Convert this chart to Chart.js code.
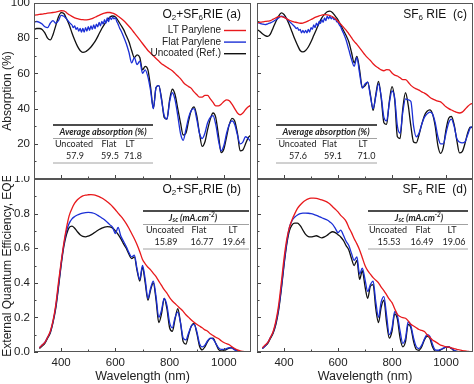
<!DOCTYPE html>
<html><head><meta charset="utf-8">
<script src="https://cdn.jsdelivr.net/npm/chart.js@4/dist/chart.umd.min.js"></script>
<style>
html,body{margin:0;padding:0;background:#fff;width:474px;height:384px;overflow:hidden;position:relative}
canvas{position:absolute}
</style></head><body>
<canvas id="ca"></canvas><canvas id="cb"></canvas><canvas id="cc"></canvas><canvas id="cd"></canvas>
<script>
// ---------- data ----------
// common wavelength grid (nm), 10 nm step
const WL = Array.from({length: 81}, (_, i) => 300 + 10 * i);
// finer grid for the flat-parylene absorption curves (ripples between 445 and 620 nm)
const WLF = [].concat(
  Array.from({length: 15}, (_, i) => 300 + 10 * i),
  Array.from({length: 36}, (_, i) => 445 + 5 * i),
  Array.from({length: 48}, (_, i) => 630 + 10 * i));

// (a) Absorption (%), O2+SF6 RIE
const absO2_LT = [93,93.2,93.5,93.7,94,94.2,94.4,94.6,94.8,95.2,95.6,95.5,94.5,93.3,92.4,91.6,91.1,90.7,90.5,90.4,90.6,91,91.6,92.3,93,93.7,94.3,94.6,94.6,94.2,93.5,92.5,91.3,90,88.5,86.8,85,83,81,79,77,75,73,71.5,70,68.5,67,65.5,64.5,63.5,62.5,61.5,60,58.5,57,55,53.5,52.5,51.5,49.5,48,46.5,46.5,47.5,47.5,45.5,43.5,41.5,41.5,42.5,44,45,44.5,42.5,40,37.5,36.5,37.5,39.5,41,42];
const absO2_Flat = [89,89.5,89,88,86.5,86,88.5,90,88.5,90,93,92.5,91,89,87.5,
  86,87,85,86,84,85.5,83.5,85.5,83.5,86,84,86.5,84.5,87,85,87.5,85.5,88,86.5,89,87,89.5,88,90.5,88.5,91.5,89.5,92,90.5,92,91,91.5,89.5,88,86,84.5,
  81,77,72,66,69,65,67,60,62,58,50,40,52,53,45,36,34,44,49,45,36,26,22,28,35,39,40,34,26,23,26,32,35,36,31,22,16,19,26,31,33,31,25,20,21,24,23,21];
const absO2_Unc = [85,85.5,85.5,85,83,80,79,82,87,92,94.5,94,91,87.5,83,79,75.5,73,72,72.3,73.5,75,77,79.5,82.5,85.5,88,90.3,92,92.6,92,90,87.5,85,81.5,78,73,69,70.5,69,62,64,62,52,40,52,53,46,35,34,45,51,48,40,32,25,26,33,39,41,36,26,18.5,21,28,34,37.5,35,25,15,17,24,31,34.5,33,26,16,16.5,20,23.5,25];

// (b) EQE, O2+SF6 RIE
const eqeO2_LT = [null,null,0.025,0.04,0.055,0.085,0.12,0.18,0.27,0.4,0.52,0.63,0.72,0.79,0.83,0.86,0.88,0.893,0.902,0.907,0.909,0.91,0.908,0.904,0.898,0.89,0.88,0.868,0.855,0.84,0.822,0.803,0.785,0.765,0.742,0.715,0.685,0.655,0.62,0.58,0.535,0.51,0.49,0.475,0.455,0.435,0.41,0.385,0.36,0.34,0.315,0.295,0.28,0.265,0.25,0.235,0.215,0.2,0.185,0.172,0.16,0.15,0.14,0.128,0.12,0.105,0.095,0.085,0.078,0.065,0.055,0.048,0.042,0.03,0.02,0.012,0.006,0.003,0.001,0,0];
const eqeO2_Flat = [null,null,0.025,0.04,0.055,0.085,0.115,0.175,0.26,0.38,0.51,0.62,0.7,0.745,0.77,0.783,0.792,0.798,0.803,0.806,0.807,0.806,0.802,0.795,0.785,0.775,0.765,0.75,0.735,0.72,0.685,0.72,0.67,0.64,0.61,0.575,0.55,0.56,0.48,0.42,0.5,0.42,0.31,0.37,0.41,0.32,0.2,0.24,0.31,0.27,0.17,0.14,0.2,0.23,0.17,0.08,0.07,0.11,0.15,0.16,0.12,0.05,0.03,0.04,0.065,0.08,0.075,0.05,0.025,0.015,0.015,0.02,0.025,0.022,0.012,0.005,0.002,0.001,0,0,0];
const eqeO2_Unc = [null,null,0.02,0.035,0.05,0.08,0.11,0.17,0.25,0.37,0.5,0.61,0.68,0.72,0.728,0.715,0.695,0.678,0.668,0.666,0.67,0.677,0.687,0.698,0.708,0.716,0.722,0.725,0.723,0.716,0.7,0.68,0.655,0.625,0.6,0.565,0.54,0.55,0.47,0.41,0.49,0.4,0.3,0.36,0.4,0.3,0.17,0.22,0.31,0.25,0.14,0.12,0.19,0.25,0.17,0.06,0.045,0.1,0.15,0.165,0.11,0.035,0.012,0.03,0.06,0.078,0.08,0.05,0.015,0.006,0.008,0.015,0.022,0.025,0.015,0.006,0.002,0.001,0,0,0];

// (c) Absorption (%), SF6 RIE
const absSF6_LT = [88.7,89,89.3,89.5,89.7,90,90.8,91.6,92.2,92.3,91.8,91,90.2,89.6,89.2,88.8,88.5,88.6,89.1,89.8,90.6,91.4,92.1,92.7,93.1,93.4,93.3,92.9,92.2,91,89.6,88,86.3,84.6,82.5,80.3,78.2,76.5,74.5,72.5,70.5,68.8,67.3,65.5,64,63,62,61.5,62.2,62,60.2,59,58.5,57.5,56.5,56.5,55,53.2,52,51.2,50.5,49.5,48.8,47.8,46.5,45.5,44.8,44.2,43.8,42.5,41,40,39.2,38.5,37.8,37.5,38,39.5,41.2,42.5,43];
const absSF6_Flat = [89,88.5,88,87.7,88.2,88.7,89.5,90.5,91.5,92.5,92,91,89.5,88,86.5,
  85.5,86,84.5,85,83,84.5,83,84.5,83,85,83.5,86,85,87.5,86,88.5,87,89.5,88.5,90.5,89,91.5,90,92.5,91,92.5,91,92,90.5,91,89.5,89,87.5,86.5,84.5,83,
  79,73.5,68,64,69,60,51.6,54,55,47,40,47,54,47,35,33,43,50,46,30,26,38,45.5,45,44,30,24,26,31,35,37,38,37,32,24,20,20,26,32,34,30,23,21,20.5,21,25,29,30];
const absSF6_Unc = [85,84,82.5,81.5,81,82.5,86,89.5,92.5,94.4,93.5,91,87.5,83.5,79.5,76,73,72.2,73,75,78,81.5,85,88.5,91.5,93.5,95,95.4,94.5,92.5,90.5,87.5,84.5,81.5,78,72,66,69.7,62,52,53,55,48,39,48,55.5,46,32,31,44,52.5,45,24,23,40,49,42,30,21,20.5,25,31,36,38.5,39.3,37,30,19,14.6,18,28,34.5,35.5,31,22,14.8,15.5,20,26,29.5,29];

// (d) EQE, SF6 RIE
const eqeSF6_LT = [null,null,0.025,0.04,0.055,0.085,0.12,0.18,0.27,0.4,0.54,0.65,0.72,0.765,0.8,0.83,0.85,0.866,0.877,0.885,0.889,0.89,0.888,0.884,0.879,0.873,0.866,0.855,0.84,0.825,0.81,0.79,0.775,0.755,0.72,0.69,0.655,0.625,0.59,0.545,0.5,0.47,0.45,0.43,0.415,0.4,0.375,0.355,0.33,0.305,0.285,0.25,0.218,0.205,0.198,0.195,0.18,0.16,0.15,0.14,0.13,0.125,0.118,0.1,0.085,0.07,0.06,0.05,0.04,0.035,0.03,0.028,0.024,0.02,0.015,0.012,0.008,0.006,0.004,0.002,0.001];
const eqeSF6_Flat = [null,null,0.02,0.035,0.055,0.085,0.115,0.17,0.25,0.37,0.51,0.63,0.72,0.76,0.78,0.792,0.8,0.803,0.803,0.802,0.8,0.796,0.79,0.783,0.776,0.77,0.763,0.752,0.738,0.715,0.69,0.705,0.675,0.64,0.615,0.57,0.53,0.55,0.45,0.485,0.42,0.35,0.39,0.41,0.29,0.2,0.29,0.32,0.21,0.1,0.14,0.233,0.21,0.12,0.05,0.08,0.175,0.15,0.08,0.03,0.02,0.04,0.075,0.1,0.09,0.045,0.012,0.01,0.015,0.022,0.028,0.03,0.022,0.01,0.004,0.001,0,0,0,0,0];
const eqeSF6_Unc = [null,null,0.02,0.035,0.05,0.08,0.11,0.16,0.24,0.36,0.5,0.62,0.7,0.735,0.745,0.745,0.73,0.705,0.68,0.667,0.665,0.668,0.672,0.665,0.66,0.665,0.675,0.688,0.695,0.69,0.678,0.665,0.645,0.615,0.59,0.54,0.5,0.53,0.42,0.47,0.38,0.31,0.38,0.39,0.25,0.17,0.26,0.3,0.17,0.08,0.12,0.22,0.19,0.08,0.03,0.06,0.16,0.14,0.06,0.015,0.01,0.03,0.07,0.09,0.08,0.03,0.005,0.005,0.012,0.02,0.028,0.03,0.02,0.008,0.003,0.001,0,0,0,0,0];

// table contents
const tblCols = ['Uncoated', 'Flat', 'LT'];
const avgAbsO2 = ['57.9', '59.5', '71.8'];
const avgAbsSF6 = ['57.6', '59.1', '71.0'];
const jscO2 = ['15.89', '16.77', '19.64'];
const jscSF6 = ['15.53', '16.49', '19.06'];
const legendLabels = ['LT Parylene', 'Flat Parylene', 'Uncoated (Ref.)'];

// ---------- styling ----------
const RED = '#e8191c', BLUE = '#1b2fd6', BLACK = '#111111';
const AX = '"Liberation Sans", Arial, sans-serif';
const TB = 'Lato, "Open Sans", sans-serif';

function pts(xs, arr) { return xs.map((x, i) => ({x, y: arr[i]})); }
function sets(lt, flat, unc, flatX) {
  const base = {pointRadius: 0, borderWidth: 1.3, cubicInterpolationMode: 'monotone', fill: false, spanGaps: false};
  return [
    Object.assign({label: legendLabels[0], data: pts(WL, lt), borderColor: RED}, base),
    Object.assign({label: legendLabels[1], data: pts(flatX || WL, flat), borderColor: BLUE}, base),
    Object.assign({label: legendLabels[2], data: pts(WL, unc), borderColor: BLACK}, base)
  ];
}

function runs(ctx, list, x, y, align) {
  let w = 0;
  list.forEach(r => { ctx.font = r[1]; w += ctx.measureText(r[0]).width; });
  let cx = align === 'right' ? x - w : align === 'center' ? x - w / 2 : x;
  list.forEach(r => { ctx.font = r[1]; ctx.fillText(r[0], cx, y + (r[2] || 0)); cx += ctx.measureText(r[0]).width; });
}
function hline(ctx, x0, x1, y, w, c) {
  ctx.beginPath(); ctx.strokeStyle = c; ctx.lineWidth = w; ctx.moveTo(x0, y); ctx.lineTo(x1, y); ctx.stroke();
}

const decor = {
  id: 'decor',
  afterDatasetsDraw(chart, args, o) {
    const {ctx, chartArea: a, scales: {x, y}} = chart;
    ctx.save();
    ctx.strokeStyle = '#444'; ctx.lineWidth = 1;
    ctx.beginPath();
    [400, 500, 600, 700, 800, 900, 1000].forEach(v => {
      const px = Math.round(x.getPixelForValue(v)) + 0.5;
      const len = v % 200 === 0 ? 4 : 2.5;
      ctx.moveTo(px, a.bottom); ctx.lineTo(px, a.bottom - len);
    });
    o.yTicks.forEach((v, i) => {
      const py = Math.round(y.getPixelForValue(v)) + 0.5;
      const len = i % 2 === 0 ? 4 : 2.5;
      ctx.moveTo(a.left, py); ctx.lineTo(a.left + len, py);
    });
    ctx.stroke();
    ctx.strokeStyle = '#555'; ctx.lineWidth = 1;
    ctx.strokeRect(Math.round(a.left) + 0.5, Math.round(a.top) + 0.5, Math.round(a.right - a.left) - 1, Math.round(a.bottom - a.top) - 1);
    ctx.translate(-o.ox, -o.oy);
    ctx.fillStyle = '#111'; ctx.textBaseline = 'middle';
    o.draw(ctx);
    ctx.restore();
  }
};

function table(ctx, t) {
  hline(ctx, t.x0, t.x1, t.y0, 1.6, '#111');
  hline(ctx, t.x0, t.x1, t.y0 + 13.5, 0.8, '#8a8a8a');
  hline(ctx, t.x0, t.x1, t.y0 + 38, 0.8, '#8a8a8a');
  ctx.fillStyle = '#222';
  runs(ctx, t.head, t.hx, t.y0 + 7, 'center');
  ctx.font = '9px ' + TB;
  ctx.textAlign = 'center';
  t.cx.forEach((cx, i) => ctx.fillText(tblCols[i], cx, t.y0 + 19.5));
  t.vx.forEach((cx, i) => ctx.fillText(t.vals[i], cx, t.y0 + 31.5));
  ctx.textAlign = 'left';
}

const F12 = '12px ' + AX, F8 = '8px ' + AX;
const HB = 'italic bold 9px ' + TB, HBs = 'italic bold 6.5px ' + TB;

function mk(id, ox, oy, w, h, cfg) {
  const cv = document.getElementById(id);
  cv.width = w; cv.height = h;
  cv.style.left = ox + 'px'; cv.style.top = oy + 'px';
  cv.style.width = w + 'px'; cv.style.height = h + 'px';
  const tickFont = {family: AX, size: 11.5};
  return new Chart(cv, {
    type: 'line',
    data: {datasets: cfg.datasets},
    options: {
      responsive: false, animation: false, devicePixelRatio: 1,
      layout: {padding: cfg.padding},
      plugins: {legend: {display: false}, tooltip: {enabled: false},
        decor: {ox, oy, yTicks: cfg.yMinor, draw: cfg.draw}},
      scales: {
        x: {type: 'linear', min: 300, max: 1100, display: cfg.showX,
          grid: {display: false, drawTicks: false}, border: {display: false},
          ticks: {font: tickFont, color: '#222', padding: 4, maxRotation: 0, callback: v => String(v)},
          afterBuildTicks: s => { s.ticks = [400, 600, 800, 1000].map(v => ({value: v})); },
          afterFit: s => { if (cfg.showX) s.height = 32; s.paddingLeft = 0; s.paddingRight = 0; },
          title: {display: true, text: 'Wavelength (nm)', font: {family: AX, size: 12.5}, color: '#222', padding: 0}},
        y: {type: 'linear', min: cfg.yMin, max: cfg.yMax, display: cfg.showY,
          grid: {display: false, drawTicks: false}, border: {display: false},
          ticks: {font: tickFont, color: '#222', padding: 4, callback: cfg.yFmt},
          afterBuildTicks: s => { s.ticks = cfg.yLabels.map(v => ({value: v})); },
          afterFit: s => { if (cfg.showY) s.width = 34; s.paddingTop = 0; s.paddingBottom = 0; },
          title: {display: true, text: cfg.yTitle || '', font: {family: AX, size: 12}, color: '#222', padding: 0}}
      }
    },
    plugins: [decor]
  });
}

const absMinor = [0, 10, 20, 30, 40, 50, 60, 70, 80, 90, 100];
const eqeMinor = [0, 0.1, 0.2, 0.3, 0.4, 0.5, 0.6, 0.7, 0.8, 0.9, 1.0];

// (a)
mk('ca', 0, 0, 254, 181, {
  datasets: sets(absO2_LT, absO2_Flat, absO2_Unc, WLF),
  padding: {left: 0, top: 3, right: 3, bottom: 2},
  showX: false, showY: true, yMin: 0, yMax: 100, yLabels: [20, 40, 60, 80, 100], yMinor: absMinor,
  yFmt: v => String(v), yTitle: 'Absorption (%)',
  draw: ctx => {
    runs(ctx, [['O', F12], ['2', F8, 3], ['+SF', F12], ['6', F8, 3], ['RIE (a)', F12]], 241, 15, 'right');
    ctx.font = '10px ' + AX; ctx.textAlign = 'right';
    [RED, BLUE, BLACK].forEach((c, i) => {
      const yy = 30.5 + 11.6 * i;
      ctx.fillStyle = '#222'; ctx.fillText(legendLabels[i], 221, yy);
      hline(ctx, 224, 246, yy, 1.4, c);
    });
    ctx.textAlign = 'left';
    table(ctx, {x0: 53, x1: 153, y0: 125, hx: 103, head: [['Average absorption (%)', HB]],
      cx: [74, 109, 130], vx: [75, 110, 133], vals: avgAbsO2});
  }
});
// (b)
mk('cb', 0, 176, 254, 208, {
  datasets: sets(eqeO2_LT, eqeO2_Flat, eqeO2_Unc),
  padding: {left: 0, top: 3, right: 3, bottom: 0},
  showX: true, showY: true, yMin: 0, yMax: 1, yLabels: [0, 0.2, 0.4, 0.6, 0.8, 1.0], yMinor: eqeMinor,
  yFmt: v => v.toFixed(1), yTitle: 'External Quantum Efficiency, EQE',
  draw: ctx => {
    runs(ctx, [['O', F12], ['2', F8, 3], ['+SF', F12], ['6', F8, 3], ['RIE (b)', F12]], 241, 190, 'right');
    table(ctx, {x0: 143, x1: 249, y0: 211, hx: 193,
      head: [['J', HB], ['sc', HBs, 2], [' (mA.cm', HB], ['-2', HBs, -3], [')', HB]],
      cx: [165, 199, 233], vx: [166, 202, 234], vals: jscO2});
  }
});
// (c)
mk('cc', 254, 0, 220, 181, {
  datasets: sets(absSF6_LT, absSF6_Flat, absSF6_Unc, WLF),
  padding: {left: 3, top: 3, right: 1, bottom: 2},
  showX: false, showY: false, yMin: 0, yMax: 100, yLabels: [20, 40, 60, 80, 100], yMinor: absMinor,
  yFmt: v => String(v),
  draw: ctx => {
    runs(ctx, [['SF', F12], ['6', F8, 3], [' RIE  (c)', F12]], 467, 15, 'right');
    table(ctx, {x0: 276, x1: 377, y0: 125, hx: 326, head: [['Average absorption (%)', HB]],
      cx: [297.5, 329.5, 363], vx: [298, 333, 366.5], vals: avgAbsSF6});
  }
});
// (d)
mk('cd', 254, 176, 220, 208, {
  datasets: sets(eqeSF6_LT, eqeSF6_Flat, eqeSF6_Unc),
  padding: {left: 3, top: 3, right: 1, bottom: 0},
  showX: true, showY: false, yMin: 0, yMax: 1, yLabels: [0, 0.2, 0.4, 0.6, 0.8, 1.0], yMinor: eqeMinor,
  yFmt: v => v.toFixed(1),
  draw: ctx => {
    runs(ctx, [['SF', F12], ['6', F8, 3], [' RIE  (d)', F12]], 467, 190, 'right');
    table(ctx, {x0: 368, x1: 468, y0: 211, hx: 419,
      head: [['J', HB], ['sc', HBs, 2], [' (mA.cm', HB], ['-2', HBs, -3], [')', HB]],
      cx: [388, 423, 452], vx: [389, 422, 454], vals: jscSF6});
  }
});
</script>
</body></html>
